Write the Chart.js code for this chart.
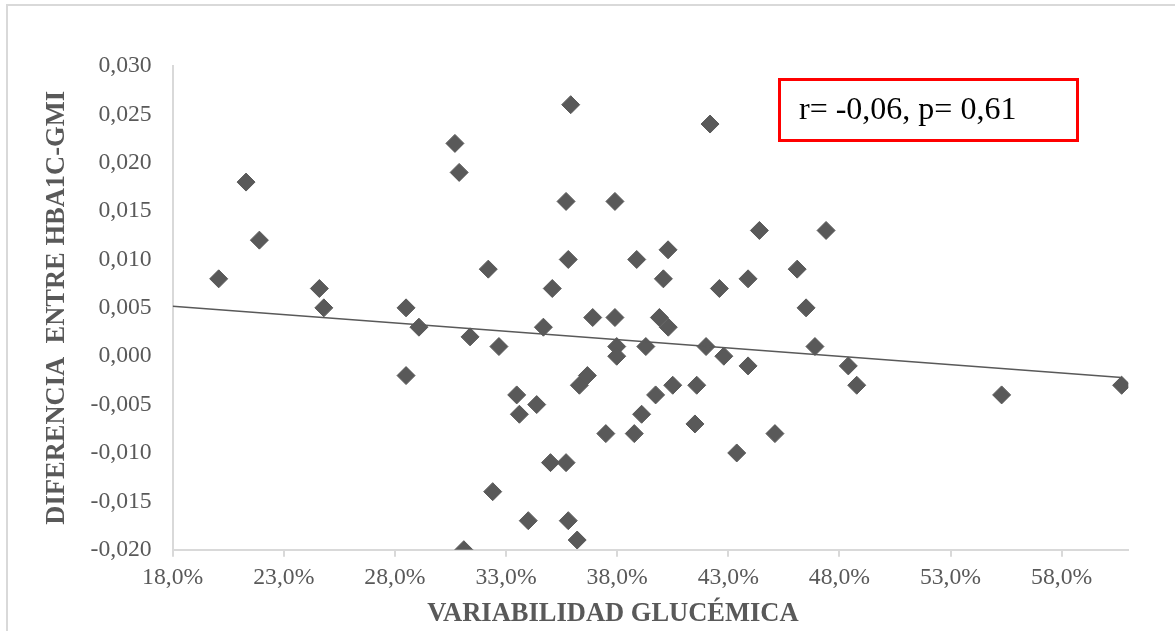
<!DOCTYPE html>
<html>
<head>
<meta charset="utf-8">
<title>Variabilidad glucémica vs diferencia HbA1c-GMI</title>
<script src="https://cdn.jsdelivr.net/npm/chart.js@4.4.1/dist/chart.umd.min.js"></script>
<style>
  html, body { margin: 0; padding: 0; background: #fff; }
  #wrap { position: relative; width: 1175px; height: 631px; overflow: hidden; }
  #frame {
    position: absolute; left: 6px; top: 4px; right: -10px; bottom: -10px;
    border-top: 2px solid #d9d9d9; border-left: 2px solid #d9d9d9;
  }
  canvas { position: absolute; left: 0; top: 0; }
</style>
</head>
<body>
<div id="wrap">
  <div id="frame"></div>
  <canvas id="scatterChart" width="1175" height="631"></canvas>
</div>
<script>
// variabilidad glucemica (fraction) and HbA1c-GMI difference
let cvValues = [
  0.2007, 0.2130, 0.2190, 0.2460, 0.2480, 0.2850, 0.2850, 0.2908,
  0.3070, 0.3089, 0.3138, 0.3220, 0.3240, 0.3268, 0.3110, 0.3348,
  0.3360, 0.3400, 0.3438, 0.3468, 0.3500, 0.3508, 0.3570, 0.3570,
  0.3580, 0.3580, 0.3591, 0.3620, 0.3630, 0.3666, 0.3690, 0.3749,
  0.3790, 0.3790, 0.3798, 0.3798, 0.3877, 0.3888, 0.3910, 0.3929,
  0.3973, 0.3990, 0.4008, 0.4029, 0.4030, 0.4050, 0.4150, 0.4158,
  0.4200, 0.4218, 0.4260, 0.4280, 0.4338, 0.4389, 0.4389, 0.4440,
  0.4510, 0.4610, 0.4650, 0.4690, 0.4740, 0.4840, 0.4878, 0.5530,
  0.6070
];
let diffValues = [
  0.008, 0.018, 0.012, 0.007, 0.005, 0.005, -0.002, 0.003,
  0.022, 0.019, 0.002, 0.009, -0.014, 0.001, -0.020, -0.004,
  -0.006, -0.017, -0.005, 0.003, -0.011, 0.007, 0.016, -0.011,
  0.010, -0.017, 0.026, -0.019, -0.003, -0.002, 0.004, -0.008,
  0.016, 0.004, 0.001, 0.000, -0.008, 0.010, -0.006, 0.001,
  -0.004, 0.004, 0.008, 0.011, 0.003, -0.003, -0.007, -0.003,
  0.001, 0.024, 0.007, 0.000, -0.010, 0.008, -0.001, 0.013,
  -0.008, 0.009, 0.005, 0.001, 0.013, -0.001, -0.003, -0.004,
  -0.003
];
let xMin = 0.18, xMax = 0.61, xStep = 0.05;
let yMin = -0.020, yMax = 0.030, yStep = 0.005;
let statsText = 'r= -0,06, p= 0,61';

let points = cvValues.map((x, i) => ({x: x, y: diffValues[i]}));

// least squares trend line (Excel style linear trendline)
let n = points.length;
let mx = cvValues.reduce((a, b) => a + b, 0) / n;
let my = diffValues.reduce((a, b) => a + b, 0) / n;
let sxy = 0, sxx = 0;
points.forEach(p => { sxy += (p.x - mx) * (p.y - my); sxx += (p.x - mx) * (p.x - mx); });
let slope = sxy / sxx;
let icpt = my - slope * mx;
let trendX = [xMin, Math.max(...cvValues)];
let trendPoints = trendX.map(x => ({x: x, y: icpt + slope * x}));

const grey = '#595959';
const serif = "'Liberation Serif', 'Times New Roman', serif";

const boxPlugin = {
  id: 'statsBox',
  afterDraw(chart) {
    const ctx = chart.ctx;
    ctx.save();
    // r / p box
    ctx.strokeStyle = '#ff0000';
    ctx.lineWidth = 3;
    ctx.strokeRect(779.5, 79.5, 298, 61);
    ctx.fillStyle = '#000';
    ctx.font = '32px ' + serif;
    ctx.textBaseline = 'alphabetic';
    ctx.fillText(statsText, 799, 118.5);
    // x axis title (Excel centres it on the whole chart)
    ctx.fillStyle = grey;
    ctx.font = 'bold 26.5px ' + serif;
    ctx.textAlign = 'center';
    ctx.fillText('VARIABILIDAD GLUCÉMICA', 613, 621);
    ctx.restore();
  }
};

var chartCtx = document.getElementById('scatterChart').getContext('2d');
var chart1 = new Chart(chartCtx, {
  type: 'scatter',
  data: {
    datasets: [{
      label: 'Pacientes',
      data: points,
      pointStyle: 'rectRot',
      pointRadius: 9,
      pointHoverRadius: 9,
      backgroundColor: grey,
      borderColor: grey,
      borderWidth: 1,
      order: 2
    }, {
      type: 'line',
      label: 'Lineal',
      data: trendPoints,
      borderColor: grey,
      borderWidth: 1.5,
      pointRadius: 0,
      fill: false,
      order: 1
    }]
  },
  options: {
    responsive: false,
    animation: false,
    layout: {
      padding: {left: 0, top: 66, right: 46.7, bottom: 0}
    },
    plugins: {
      legend: {display: false},
      tooltip: {enabled: false}
    },
    scales: {
      x: {
        type: 'linear',
        min: xMin,
        max: xMax,
        afterBuildTicks: (scale) => {
          let ticks = [];
          for (let k = 0; xMin + k * xStep <= xMax + 1e-9; k++) {
            ticks.push({value: Math.round((xMin + k * xStep) * 1000) / 1000});
          }
          scale.ticks = ticks;
        },
        afterFit: (scale) => { scale.height = 81.3; },
        ticks: {
          autoSkip: false,
          padding: 7,
          color: grey,
          font: {family: serif, size: 23.7},
          maxRotation: 0,
          callback: (v) => (v * 100).toFixed(1).replace('.', ',') + '%'
        },
        grid: {
          display: true,
          drawOnChartArea: false,
          drawTicks: true,
          tickLength: 7,
          color: '#d9d9d9',
          lineWidth: 2
        },
        border: {display: true, color: '#d9d9d9', width: 2}
      },
      y: {
        min: yMin,
        max: yMax,
        afterFit: (scale) => { scale.width = 172.7; },
        ticks: {
          stepSize: yStep,
          padding: 21,
          color: grey,
          font: {family: serif, size: 23.7},
          callback: (v) => (Math.abs(v) < 1e-9 ? 0 : v).toFixed(3).replace('.', ',')
        },
        grid: {display: false, drawTicks: false},
        border: {display: true, color: '#d9d9d9', width: 2},
        title: {
          display: true,
          text: 'DIFERENCIA  ENTRE HBA1C-GMI',
          color: grey,
          font: {family: serif, size: 26.5, weight: 'bold'},
          padding: {top: 41, bottom: 0}
        }
      }
    }
  },
  plugins: [boxPlugin]
});
</script>
</body>
</html>
